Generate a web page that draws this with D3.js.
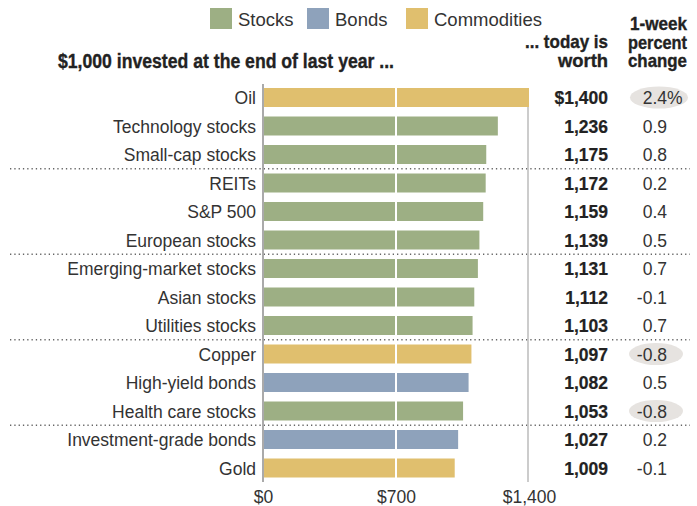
<!DOCTYPE html>
<html>
<head>
<meta charset="utf-8">
<script src="https://cdn.jsdelivr.net/npm/d3@7"></script>
<style>
  html, body { margin: 0; padding: 0; background: #fff; }
  svg { display: block; }
  .lbl { font-family: "Liberation Sans", Arial, Helvetica, sans-serif; fill: #333; }
  .hdr { font-family: "Liberation Sans Narrow", "Liberation Sans", Arial, sans-serif; font-weight: bold; fill: #222; stroke: #222; stroke-width: 0.35px; }
</style>
</head>
<body>
<svg id="chart" width="697" height="506"></svg>
<script>
// Value of $1,000 invested at the end of last year, by asset
const categories = [
  "Oil", "Technology stocks", "Small-cap stocks", "REITs", "S&P 500",
  "European stocks", "Emerging-market stocks", "Asian stocks", "Utilities stocks",
  "Copper", "High-yield bonds", "Health care stocks", "Investment-grade bonds", "Gold"
];
const assetClass = [
  "Commodities", "Stocks", "Stocks", "Stocks", "Stocks",
  "Stocks", "Stocks", "Stocks", "Stocks",
  "Commodities", "Bonds", "Stocks", "Bonds", "Commodities"
];
const worth = [1400, 1236, 1175, 1172, 1159, 1139, 1131, 1112, 1103, 1097, 1082, 1053, 1027, 1009];
const weekChange = [2.4, 0.9, 0.8, 0.2, 0.4, 0.5, 0.7, -0.1, 0.7, -0.8, 0.5, -0.8, 0.2, -0.1];
const highlighted = [true, false, false, false, false, false, false, false, false, true, false, true, false, false];
const separatorsAfter = ["Small-cap stocks", "European stocks", "Utilities stocks", "Health care stocks"];
const legendKeys = ["Stocks", "Bonds", "Commodities"];
const tickValues = [0, 700, 1400];

const colors = d3.scaleOrdinal()
  .domain(legendKeys)
  .range(["#9daf84", "#8ea2bb", "#e0bf6e"]);

const svg = d3.select("#chart");

const x = d3.scaleLinear().domain([0, 1400]).range([263, 529]);
const y = d3.scaleBand().domain(categories)
  .range([83.25, 482.25]).paddingInner(1 / 3).paddingOuter(1 / 6);

// Legend
const legend = svg.append("g");
const legendX = [210, 307, 406];
legendKeys.forEach((k, i) => {
  legend.append("rect").attr("x", legendX[i]).attr("y", 8)
    .attr("width", 22).attr("height", 21).attr("fill", colors(k));
  legend.append("text").attr("class", "lbl")
    .attr("x", legendX[i] + 28).attr("y", 25.5)
    .attr("font-size", 18.5).text(k);
});

// Column headers
svg.append("text").attr("class", "hdr").attr("x", 58).attr("y", 68)
  .attr("font-size", 19.5).attr("textLength", 336).attr("lengthAdjust", "spacingAndGlyphs")
  .text("$1,000 invested at the end of last year ...");
svg.append("text").attr("class", "hdr").attr("x", 608).attr("y", 48)
  .attr("text-anchor", "end").attr("font-size", 18.5)
  .attr("textLength", 83).attr("lengthAdjust", "spacingAndGlyphs").text("... today is");
svg.append("text").attr("class", "hdr").attr("x", 608).attr("y", 67)
  .attr("text-anchor", "end").attr("font-size", 18.5)
  .attr("textLength", 50).attr("lengthAdjust", "spacingAndGlyphs").text("worth");
[["1-week", 30, 57], ["percent", 48.5, 59], ["change", 67, 59]].forEach(([t, yy, w]) => {
  svg.append("text").attr("class", "hdr").attr("x", 687).attr("y", yy)
    .attr("text-anchor", "end").attr("font-size", 18.5)
    .attr("textLength", w).attr("lengthAdjust", "spacingAndGlyphs").text(t);
});

// Dotted group separators
svg.append("g").selectAll("line").data(separatorsAfter).join("line")
  .attr("x1", 10).attr("x2", 690)
  .attr("y1", d => y(d) + y.bandwidth() + y.step() * (1 / 6))
  .attr("y2", d => y(d) + y.bandwidth() + y.step() * (1 / 6))
  .attr("stroke", "#666").attr("stroke-width", 1.3)
  .attr("stroke-dasharray", "1.3,3");

// Gridline at the top tick
svg.append("line")
  .attr("x1", x(1400) - 1).attr("x2", x(1400) - 1)
  .attr("y1", 88).attr("y2", 482)
  .attr("stroke", "#bbb").attr("stroke-width", 1.5);

// Bars
svg.append("g").selectAll("rect").data(categories).join("rect")
  .attr("x", x(0))
  .attr("y", d => y(d))
  .attr("width", (d, i) => x(worth[i]) - x(0))
  .attr("height", y.bandwidth())
  .attr("fill", (d, i) => colors(assetClass[i]));

// White gridline through the bars at the middle tick
svg.append("line")
  .attr("x1", x(700)).attr("x2", x(700))
  .attr("y1", 86).attr("y2", 482)
  .attr("stroke", "#fff").attr("stroke-width", 2);

// Baseline at zero
svg.append("line")
  .attr("x1", x(0)).attr("x2", x(0))
  .attr("y1", 84).attr("y2", 482)
  .attr("stroke", "#aaa").attr("stroke-width", 2);

// Category labels
svg.append("g").selectAll("text").data(categories).join("text")
  .attr("class", "lbl")
  .attr("x", 256)
  .attr("y", d => y(d) + y.bandwidth() / 2 + 6.5)
  .attr("text-anchor", "end")
  .attr("font-size", 17.5)
  .text(d => d);

// Value column
const fmt = d3.format(",");
svg.append("g").selectAll("text").data(worth).join("text")
  .attr("class", "hdr")
  .attr("x", 608)
  .attr("y", (d, i) => y(categories[i]) + y.bandwidth() / 2 + 6.5)
  .attr("text-anchor", "end")
  .attr("font-size", 17.5)
  .style("stroke-width", "0.2px")
  .text((d, i) => (i === 0 ? "$" : "") + fmt(d));

// Highlight ovals behind notable weekly changes
svg.append("g").selectAll("ellipse")
  .data(weekChange.map((v, i) => ({ v, i })).filter(d => highlighted[d.i]))
  .join("ellipse")
  .attr("cx", d => d.i === 0 ? 659 : 656)
  .attr("cy", d => y(categories[d.i]) + y.bandwidth() / 2)
  .attr("rx", d => d.i === 0 ? 29 : 27)
  .attr("ry", 11)
  .attr("fill", "#e6e3e0");

// Weekly percent change column
const pct = v => d3.format(".1f")(v).replace("\u2212", "-");
const g = svg.append("g");
weekChange.forEach((v, i) => {
  const cy = y(categories[i]) + y.bandwidth() / 2 + 6.5;
  g.append("text").attr("class", "lbl")
    .attr("x", 667).attr("y", cy).attr("text-anchor", "end")
    .attr("font-size", 17.5).text(pct(v));
  if (i === 0) {
    g.append("text").attr("class", "lbl")
      .attr("x", 667).attr("y", cy).attr("font-size", 17.5).text("%");
  }
});

// Bottom axis
const axis = d3.axisBottom(x).tickValues(tickValues).tickSize(0)
  .tickFormat(d3.format("$,"));
const ax = svg.append("g").attr("transform", "translate(0,484)").call(axis);
ax.select(".domain").remove();
ax.selectAll("text").attr("class", "lbl").attr("font-size", 17.5).attr("dy", "0.9em")
  .attr("font-family", null).attr("fill", "#333");
</script>
</body>
</html>
